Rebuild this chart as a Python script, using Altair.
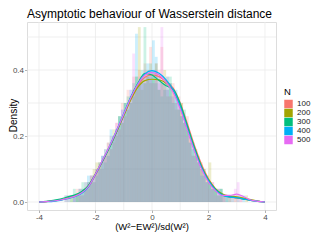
import altair as alt
import pandas as pd

# ---------------- data ----------------
N_levels = ["100", "200", "300", "400", "500"]
colors = ["#F8766D", "#A3A500", "#00BF7D", "#00B0F6", "#E76BF3"]

bin_width = 0.1
bin_starts = [round(-3.1 + bin_width * i, 2) for i in range(65)]

hist_100 = [0, 0.02, 0, 0.02, 0.04, 0.02, 0.04, 0.06, 0.04, 0.08, 0.06, 0.10, 0.12, 0.10, 0.16, 0.14,
            0.20, 0.18, 0.24, 0.22, 0.30, 0.26, 0.34, 0.30, 0.38, 0.34, 0.40, 0.36, 0.42, 0.38, 0.47, 0.36,
            0.42, 0.40, 0.47, 0.34, 0.38, 0.32, 0.36, 0.28, 0.32, 0.30, 0.24, 0.26, 0.20, 0.18, 0.16, 0.14,
            0.12, 0.10, 0.08, 0.06, 0.06, 0.04, 0.04, 0.02, 0.02, 0.02, 0, 0.02, 0, 0, 0.02, 0, 0]
hist_200 = [0, 0, 0.02, 0, 0.02, 0.04, 0.02, 0.04, 0.06, 0.06, 0.10, 0.12, 0.12, 0.12, 0.14, 0.18,
            0.16, 0.22, 0.20, 0.26, 0.24, 0.30, 0.28, 0.32, 0.34, 0.38, 0.53, 0.34, 0.36, 0.40, 0.36, 0.38,
            0.42, 0.34, 0.36, 0.40, 0.32, 0.36, 0.34, 0.30, 0.28, 0.30, 0.24, 0.22, 0.20, 0.14, 0.16, 0.12,
            0.10, 0.08, 0.08, 0.12, 0.04, 0.04, 0.02, 0.04, 0.02, 0, 0.02, 0, 0.02, 0, 0, 0, 0.02]
hist_300 = [0.02, 0, 0.02, 0.04, 0.02, 0.02, 0.06, 0.04, 0.06, 0.08, 0.06, 0.08, 0.10, 0.14, 0.12, 0.16,
            0.18, 0.20, 0.22, 0.26, 0.24, 0.30, 0.32, 0.30, 0.36, 0.38, 0.36, 0.40, 0.53, 0.38, 0.42, 0.40,
            0.36, 0.34, 0.32, 0.36, 0.34, 0.38, 0.30, 0.32, 0.28, 0.26, 0.28, 0.22, 0.18, 0.16, 0.14, 0.12,
            0.10, 0.10, 0.06, 0.06, 0.04, 0.04, 0.02, 0.04, 0, 0.02, 0.02, 0, 0, 0.02, 0, 0, 0]
hist_400 = [0, 0.02, 0, 0.02, 0.02, 0.04, 0.04, 0.06, 0.08, 0.06, 0.08, 0.10, 0.12, 0.14, 0.16, 0.14,
            0.22, 0.20, 0.22, 0.26, 0.28, 0.30, 0.28, 0.34, 0.32, 0.51, 0.36, 0.38, 0.36, 0.42, 0.38, 0.49,
            0.44, 0.38, 0.36, 0.34, 0.38, 0.36, 0.32, 0.34, 0.30, 0.26, 0.24, 0.22, 0.18, 0.18, 0.14, 0.12,
            0.08, 0.08, 0.06, 0.06, 0.04, 0.04, 0.04, 0.04, 0.02, 0.02, 0, 0.02, 0, 0, 0, 0.02, 0]
hist_500 = [0.02, 0, 0, 0.02, 0, 0.04, 0.02, 0.04, 0.06, 0.08, 0.08, 0.10, 0.10, 0.14, 0.14, 0.18,
            0.16, 0.20, 0.24, 0.22, 0.28, 0.26, 0.30, 0.34, 0.45, 0.34, 0.38, 0.36, 0.40, 0.38, 0.40, 0.36,
            0.40, 0.36, 0.53, 0.36, 0.34, 0.32, 0.34, 0.30, 0.30, 0.26, 0.24, 0.20, 0.20, 0.14, 0.14, 0.12,
            0.10, 0.08, 0.06, 0.04, 0.06, 0.02, 0.04, 0.02, 0.02, 0, 0.02, 0, 0.04, 0.06, 0.02, 0, 0]

curve_x = [-4.0, -3.75, -3.5, -3.25, -3.0, -2.75, -2.5, -2.25, -2.0, -1.75, -1.5, -1.25, -1.0,
           -0.75, -0.5, -0.25, 0.0, 0.25, 0.5, 0.75, 1.0, 1.25, 1.5, 1.75, 2.0, 2.25, 2.5, 2.75,
           3.0, 3.25, 3.5, 3.75, 4.0]
curve_100 = [0.000, 0.001, 0.003, 0.006, 0.011, 0.017, 0.027, 0.046, 0.082, 0.122, 0.166, 0.212, 0.262,
             0.312, 0.352, 0.378, 0.385, 0.380, 0.365, 0.345, 0.300, 0.238, 0.172, 0.115, 0.070, 0.040,
             0.022, 0.015, 0.012, 0.009, 0.005, 0.002, 0.000]
curve_200 = [0.000, 0.001, 0.003, 0.006, 0.012, 0.019, 0.030, 0.050, 0.086, 0.126, 0.168, 0.214, 0.262,
             0.310, 0.348, 0.368, 0.372, 0.370, 0.360, 0.338, 0.292, 0.228, 0.165, 0.108, 0.068, 0.040,
             0.024, 0.018, 0.016, 0.012, 0.007, 0.003, 0.000]
curve_300 = [0.000, 0.002, 0.005, 0.009, 0.015, 0.021, 0.031, 0.050, 0.085, 0.124, 0.166, 0.214, 0.265,
             0.318, 0.360, 0.390, 0.385, 0.368, 0.352, 0.342, 0.298, 0.232, 0.166, 0.108, 0.066, 0.038,
             0.022, 0.016, 0.013, 0.009, 0.005, 0.002, 0.000]
curve_400 = [0.000, 0.001, 0.002, 0.005, 0.010, 0.016, 0.026, 0.046, 0.084, 0.126, 0.170, 0.218, 0.268,
             0.318, 0.358, 0.388, 0.398, 0.390, 0.370, 0.340, 0.288, 0.222, 0.158, 0.104, 0.064, 0.036,
             0.020, 0.015, 0.013, 0.009, 0.005, 0.002, 0.000]
curve_500 = [0.000, 0.001, 0.003, 0.006, 0.011, 0.017, 0.027, 0.047, 0.085, 0.127, 0.170, 0.217, 0.266,
             0.316, 0.357, 0.385, 0.392, 0.385, 0.362, 0.332, 0.282, 0.218, 0.155, 0.100, 0.060, 0.034,
             0.020, 0.020, 0.024, 0.016, 0.006, 0.002, 0.000]

x_major = [-4, -2, 0, 2, 4]
x_grid = [-4, -3, -2, -1, 0, 1, 2, 3, 4]
y_major = [0.0, 0.2, 0.4]
y_grid = [0.0, 0.1, 0.2, 0.3, 0.4, 0.5]

# ---------------- tables ----------------
hists = [hist_100, hist_200, hist_300, hist_400, hist_500]
curves = [curve_100, curve_200, curve_300, curve_400, curve_500]

hist_rows = []
for lvl, vals in zip(N_levels, hists):
    for b, d in zip(bin_starts, vals):
        hist_rows.append({"N": lvl, "x0": b, "x1": round(b + bin_width, 2), "density": d})
hist_df = pd.DataFrame(hist_rows)

curve_rows = []
for lvl, vals in zip(N_levels, curves):
    for xv, d in zip(curve_x, vals):
        curve_rows.append({"N": lvl, "x": xv, "density": d})
curve_df = pd.DataFrame(curve_rows)

FONT = "Liberation Sans"
xscale = alt.Scale(domain=[-4.425, 4.39], nice=False, zero=False)
yscale = alt.Scale(domain=[-0.0242, 0.5455], nice=False, zero=False)
cscale = alt.Scale(domain=N_levels, range=colors)

x_axis = alt.Axis(
    values=x_major, grid=False, domain=False, tickColor="#B3B3B3", tickSize=2.5,
    labelFontSize=8, labelColor="#4D4D4D", labelPadding=1, labelFont=FONT,
    labelExpr="datum.value < 0 ? '-' + abs(datum.value) : '' + datum.value",
    title="(W²−EW²)/sd(W²)", titleFontSize=9.5, titleFontWeight="normal",
    titleColor="black", titleFont=FONT, titlePadding=0,
)
y_axis = alt.Axis(
    values=y_major, format=".1f", grid=False, domain=False, tickColor="#B3B3B3",
    tickSize=2.5, labelFontSize=8, labelColor="#4D4D4D", labelPadding=1, labelFont=FONT,
    title="Density", titleFontSize=10, titleFontWeight="normal", titleColor="black",
    titleFont=FONT, titleX=-9, titleY=93,
)

grid_v = alt.Chart(pd.DataFrame({"g": x_grid})).mark_rule(
    color="#EBEBEB", strokeWidth=0.8
).encode(x=alt.X("g:Q", scale=xscale, axis=x_axis))

grid_h = alt.Chart(pd.DataFrame({"g": y_grid})).mark_rule(
    color="#EBEBEB", strokeWidth=0.8
).encode(y=alt.Y("g:Q", scale=yscale, axis=y_axis))

bars = alt.Chart(hist_df).mark_bar(opacity=0.2, clip=True).encode(
    x=alt.X("x0:Q", scale=xscale, axis=x_axis),
    x2="x1:Q",
    y=alt.Y("density:Q", scale=yscale, axis=y_axis),
    y2=alt.datum(0),
    color=alt.Color(
        "N:N", scale=cscale,
        legend=alt.Legend(
            orient="none", legendX=257, legendY=65, title="N", symbolType="square",
            symbolSize=72, symbolOpacity=1, symbolStrokeWidth=0, labelFontSize=8,
            labelFont=FONT, titleFont=FONT, titleFontSize=9.5, titleFontWeight="normal",
            titleColor="black", labelColor="#1A1A1A", rowPadding=0, labelOffset=4, titlePadding=3,
        ),
    ),
    order=alt.Order("N:N"),
)

lines = alt.Chart(curve_df).mark_line(strokeWidth=1.2, interpolate="monotone", clip=True).encode(
    x=alt.X("x:Q", scale=xscale, axis=x_axis),
    y=alt.Y("density:Q", scale=yscale, axis=y_axis),
    color=alt.Color("N:N", scale=cscale, legend=None),
)

chart = alt.layer(grid_v, grid_h, bars, lines).properties(
    width=249,
    height=188,
    autosize=alt.AutoSizeParams(type="none"),
    padding={"left": 19, "top": 14, "right": 36, "bottom": 22},
    title=alt.TitleParams(
        "Asymptotic behaviour of Wasserstein distance", anchor="start", frame="group",
        fontSize=12, fontWeight="normal", font=FONT, color="black", offset=1,
    ),
).configure_view(stroke="#A6A6A6", strokeWidth=1).configure(font=FONT)

chart.save("out.html", embed_options={"renderer": "svg", "actions": False})
